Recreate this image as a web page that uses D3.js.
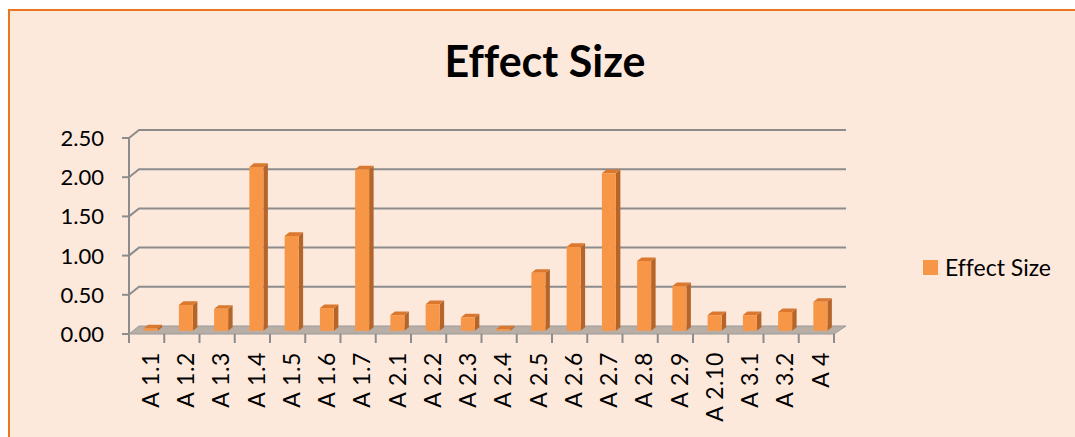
<!DOCTYPE html>
<html>
<head>
<meta charset="utf-8">
<script src="https://cdn.jsdelivr.net/npm/d3@7"></script>
<style>
  body { margin: 0; background: #fff; }
  svg { display: block; font-family: Lato, "Open Sans", sans-serif; font-variant-ligatures: none; }
</style>
</head>
<body>
<div id="chart"></div>
<script>
// data
const categories = ["A 1.1", "A 1.2", "A 1.3", "A 1.4", "A 1.5", "A 1.6", "A 1.7",
  "A 2.1", "A 2.2", "A 2.3", "A 2.4", "A 2.5", "A 2.6", "A 2.7", "A 2.8", "A 2.9",
  "A 2.10", "A 3.1", "A 3.2", "A 4"]
const effectSize = [0.03, 0.33, 0.28, 2.09, 1.21, 0.29, 2.06, 0.20, 0.34, 0.17,
  0.02, 0.74, 1.07, 2.01, 0.89, 0.57, 0.20, 0.20, 0.24, 0.37]
const yTicks = [0, 0.5, 1, 1.5, 2, 2.5]
const seriesName = "Effect Size"

const W = 1075, H = 437
const depth = {dx: 10, dy: -8}   // floor / wall offset for the fake 3d
const barF = 0.4, barB = 0.85     // bar front/back depth fractions

const svg = d3.select("#chart").append("svg")
  .attr("width", W).attr("height", H)

// chart area
svg.append("rect")
  .attr("x", 9).attr("y", 10).attr("width", W).attr("height", H)
  .attr("fill", "#fde9dc").attr("stroke", "#ec7522").attr("stroke-width", 2)

svg.append("text")
  .attr("x", 545).attr("y", 77)
  .attr("text-anchor", "middle")
  .attr("font-size", 43).attr("font-weight", "bold")
  .attr("fill", "#000")
  .text("Effect Size")

const x = d3.scaleBand().domain(categories).range([129, 834])
const y = d3.scaleLinear().domain([0, 2.5]).range([334, 138])

const grid = svg.append("g").attr("stroke", "#8c8c8c").attr("stroke-width", 2).attr("fill", "none")

// back wall gridlines + diagonals from the axis
yTicks.forEach(t => {
  if (t > 0) {
    grid.append("path")
      .attr("d", `M${129},${y(t)} L${129 + depth.dx},${y(t) + depth.dy} L${x.range()[1] + depth.dx + 2},${y(t) + depth.dy}`)
  }
  grid.append("line")
    .attr("x1", 122).attr("x2", 129).attr("y1", y(t)).attr("y2", y(t))
})
grid.append("line")
  .attr("x1", 129).attr("x2", 129).attr("y1", y(2.5)).attr("y2", y(0))

// floor
const x0 = x.range()[0], x1 = x.range()[1]
svg.append("path")
  .attr("d", `M${x0},${y(0)} L${x1},${y(0)} L${x1 + depth.dx + 2},${y(0) + depth.dy} L${x0 + depth.dx},${y(0) + depth.dy} Z`)
  .attr("fill", "#b8aea6").attr("stroke", "#9a9a9a").attr("stroke-width", 1)

// x ticks
const xt = categories.map(c => x(c)).concat([x1])
svg.append("g").selectAll("line").data(xt).join("line")
  .attr("x1", d => d).attr("x2", d => d)
  .attr("y1", y(0)).attr("y2", y(0) + 9)
  .attr("stroke", "#8c8c8c").attr("stroke-width", 2)

// y tick labels
svg.append("g").selectAll("text").data(yTicks).join("text")
  .attr("x", 104).attr("y", d => y(d))
  .attr("dy", "0.36em")
  .attr("text-anchor", "end")
  .attr("font-size", 22)
  .text(d => d.toFixed(2))

// bars
const bw = 14
const bars = svg.append("g").selectAll("g").data(effectSize).join("g")
bars.each(function(v, i) {
  const g = d3.select(this)
  const cx = x(categories[i]) + x.bandwidth() / 2
  const fx = cx - bw / 2 + depth.dx * barF
  const fyTop = y(v) + depth.dy * barF
  const fyBot = y(0) + depth.dy * barF
  const ox = depth.dx * (barB - barF), oy = depth.dy * (barB - barF)
  // side
  g.append("path")
    .attr("d", `M${fx + bw},${fyTop} L${fx + bw + ox},${fyTop + oy} L${fx + bw + ox},${fyBot + oy} L${fx + bw},${fyBot} Z`)
    .attr("fill", "#b5652a")
  // top
  g.append("path")
    .attr("d", `M${fx},${fyTop} L${fx + ox},${fyTop + oy} L${fx + bw + ox},${fyTop + oy} L${fx + bw},${fyTop} Z`)
    .attr("fill", "#d9782e")
  // front
  g.append("rect")
    .attr("x", fx).attr("y", fyTop)
    .attr("width", bw).attr("height", Math.max(0, fyBot - fyTop))
    .attr("fill", "#f79646")
})

// category labels, rotated
svg.append("g").selectAll("text").data(categories).join("text")
  .attr("transform", d => `translate(${x(d) + x.bandwidth() / 2 + 4},352) rotate(-90)`)
  .attr("dy", "0.36em")
  .attr("text-anchor", "end")
  .attr("font-size", 23)
  .attr("letter-spacing", 0.6)
  .text(d => d)

// legend
svg.append("rect")
  .attr("x", 923).attr("y", 260).attr("width", 15).attr("height", 15)
  .attr("fill", "#f79646")
svg.append("text")
  .attr("x", 945).attr("y", 276)
  .attr("font-size", 23)
  .text(seriesName)
</script>
</body>
</html>
